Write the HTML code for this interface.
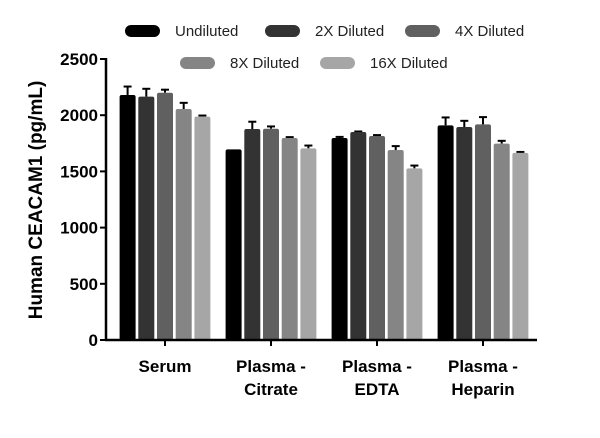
<!DOCTYPE html>
<html><head><meta charset="utf-8"><style>
body{margin:0;background:#fff;}
svg text{font-family:"Liberation Sans",sans-serif;}
</style></head><body>
<svg width="600" height="433">
<g id="plot"></g>
<script>
const categories=["Serum","Plasma - Citrate","Plasma - EDTA","Plasma - Heparin"];
const seriesNames=["Undiluted","2X Diluted","4X Diluted","8X Diluted","16X Diluted"];
const undiluted=[2180,1696,1797,1910];
const diluted2x=[2165,1877,1850,1895];
const diluted4x=[2200,1880,1815,1918];
const diluted8x=[2055,1797,1690,1747];
const diluted16x=[1987,1705,1527,1665];
const err2=[[75,0,10,70],[70,65,5,55],[27,20,8,65],[55,8,35,25],[10,25,25,8]];
const yTicks=[0,500,1000,1500,2000,2500];
const colors=["#000","#333","#606060","#858585","#a6a6a6"];
const series=[undiluted,diluted2x,diluted4x,diluted8x,diluted16x];
const NS="http://www.w3.org/2000/svg";
const g=document.getElementById('plot');
const y0=340,y1=59,vmax=2500;
const Y=v=>y0-(v/vmax)*(y0-y1);
const xStart=112,groupW=106;
const GX=i=>xStart+groupW*(i+0.5);
function mk(t,a,p){const e=document.createElementNS(NS,t);for(const k in a)e.setAttribute(k,a[k]);(p||g).appendChild(e);return e;}
series.forEach((s,si)=>{s.forEach((v,ci)=>{
 const bw=16,step=18.7;const x=GX(ci)-2*step-bw/2+si*step;
 const e=err2[si][ci];
 if(e>0){
  const l=mk('line',{x1:x+bw/2,x2:x+bw/2,y1:Y(v),y2:Y(v+e),stroke:'#000','stroke-width':2});
  
  
  const c=mk('line',{x1:x+bw/2-4,x2:x+bw/2+4,y1:Y(v+e),y2:Y(v+e),stroke:'#000','stroke-width':2});
  
  
 }
 const r=mk('rect',{x:x,y:Y(v),width:bw,height:y0-Y(v),fill:colors[si],rx:2});
 
 
});});
const ya=mk('line',{x1:106,x2:106,y1:58,y2:y0+1,stroke:'#000','stroke-width':2.5});


const xa=mk('line',{x1:105,x2:537,y1:y0,y2:y0,stroke:'#000','stroke-width':2.5});


yTicks.forEach(t=>{
 mk('line',{x1:100,x2:106,y1:Y(t),y2:Y(t),stroke:'#000','stroke-width':2});
 const tx=mk('text',{x:98,y:Y(t)+6,'text-anchor':'end','font-size':17,'font-weight':'bold'});
 tx.textContent=t;
 
 
});
categories.forEach((c,i)=>{
 mk('line',{x1:GX(i),x2:GX(i),y1:y0,y2:y0+6,stroke:'#000','stroke-width':2});
 const parts=c.split(' - ');
 const tx=mk('text',{x:GX(i),y:372,'text-anchor':'middle','font-size':17,'font-weight':'bold'});
 
 
 if(parts.length===1){tx.textContent=c;}
 else{const a=mk('tspan',{x:GX(i)},tx);a.textContent=parts[0]+' -';const b=mk('tspan',{x:GX(i),dy:23},tx);b.textContent=parts[1];}
});
const yt=mk('text',{transform:'translate(42,200) rotate(-90)','text-anchor':'middle','font-size':19,'font-weight':'bold'});
yt.textContent='Human CEACAM1 (pg/mL)';


const leg=[[125,31],[265,31],[405,31],[180,63],[320,63]];
seriesNames.forEach((n,i)=>{
 const [lx,ly]=leg[i];
 const sw=mk('rect',{x:lx,y:ly-6,width:35,height:12,rx:6,fill:colors[i]});
 
 
 const t=mk('text',{x:lx+50,y:ly+5,'font-size':15,fill:'#222'});
 t.textContent=n;
 
 
});
</script>
</svg>
</body></html>
